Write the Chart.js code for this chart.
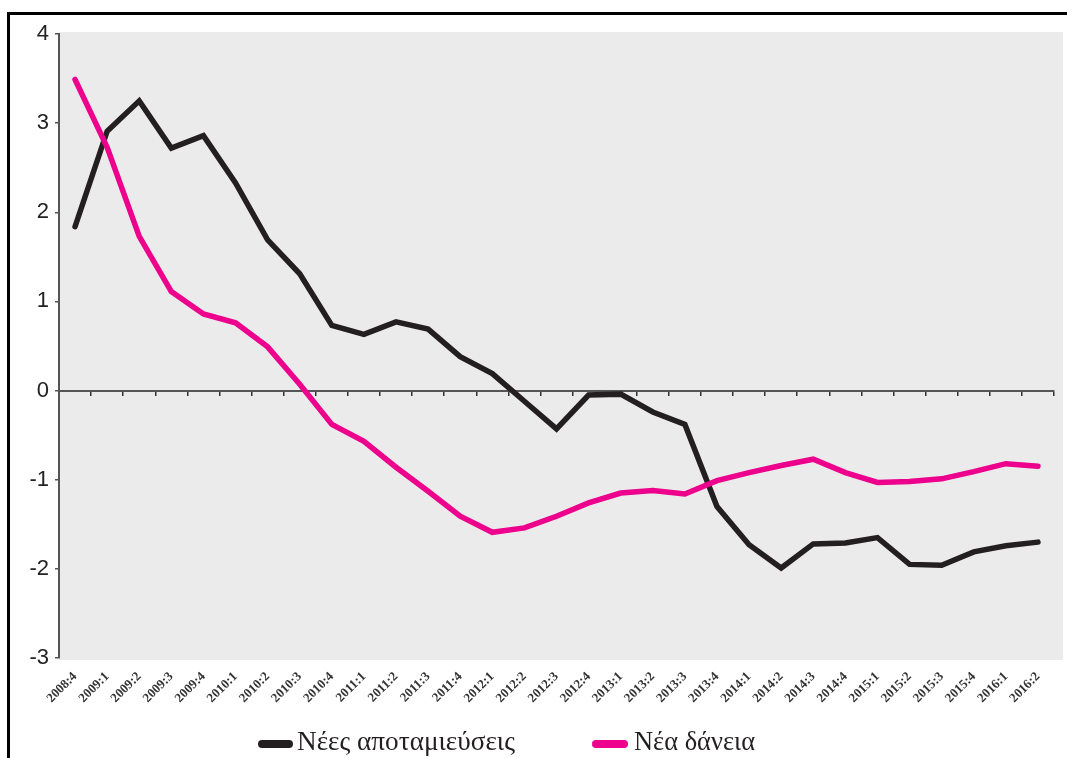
<!DOCTYPE html>
<html><head><meta charset="utf-8">
<script src="https://cdn.jsdelivr.net/npm/chart.js@4.4.0/dist/chart.umd.min.js"></script>
<style>
html,body{margin:0;padding:0;background:#fff;}
#wrap{position:relative;width:1067px;height:758px;overflow:hidden;}
#frame{position:absolute;left:7px;top:12px;width:1100px;height:800px;border-top:3px solid #000;border-left:3px solid #000;pointer-events:none;}
canvas{position:absolute;left:0;top:0;}
</style></head>
<body><div id="wrap"><div id="frame"></div><canvas id="c" width="1067" height="758"></canvas></div>
<script>
const categories = ["2008:4","2009:1","2009:2","2009:3","2009:4","2010:1","2010:2","2010:3","2010:4","2011:1","2011:2","2011:3","2011:4","2012:1","2012:2","2012:3","2012:4","2013:1","2013:2","2013:3","2013:4","2014:1","2014:2","2014:3","2014:4","2015:1","2015:2","2015:3","2015:4","2016:1","2016:2"];
const newDeposits = [1.84,2.91,3.25,2.72,2.86,2.33,1.69,1.31,0.73,0.63,0.77,0.69,0.38,0.19,-0.12,-0.43,-0.05,-0.04,-0.24,-0.38,-1.30,-1.73,-1.99,-1.72,-1.71,-1.65,-1.95,-1.96,-1.81,-1.74,-1.70];
const newLoans = [3.49,2.73,1.73,1.11,0.86,0.76,0.49,0.07,-0.38,-0.57,-0.86,-1.13,-1.41,-1.59,-1.54,-1.41,-1.26,-1.15,-1.12,-1.16,-1.01,-0.92,-0.84,-0.77,-0.92,-1.03,-1.02,-0.99,-0.91,-0.82,-0.85];
const seriesNames = ["Νέες αποταμιεύσεις","Νέα δάνεια"];
const seriesColors = ["#231f20","#ec008c"];
const yMin = -3, yMax = 4, yStep = 1;

const bgPlugin = {
  id: 'bg',
  beforeDraw(chart) {
    const {ctx, chartArea: a} = chart;
    ctx.save();
    ctx.fillStyle = '#ebebeb';
    ctx.fillRect(a.left, a.top - 2, a.right - a.left + 9, a.bottom - a.top + 4);
    ctx.restore();
  }
};

const legendPlugin = {
  id: 'customLegend',
  afterDraw(chart) {
    const ctx = chart.ctx;
    const items = [
      {name: seriesNames[0], color: seriesColors[0], x0: 258, x1: 293, tx: 297, tw: 218},
      {name: seriesNames[1], color: seriesColors[1], x0: 592, x1: 628, tx: 634, tw: 121}
    ];
    const y = 744;
    ctx.save();
    items.forEach(it => {
      ctx.strokeStyle = it.color;
      ctx.lineWidth = 8;
      ctx.lineCap = 'round';
      ctx.beginPath();
      ctx.moveTo(it.x0 + 4, y);
      ctx.lineTo(it.x1 - 4, y);
      ctx.stroke();
      ctx.font = '24px "Liberation Serif"';
      const w = ctx.measureText(it.name).width;
      const size = 24 * it.tw / w;
      ctx.font = size.toFixed(2) + 'px "Liberation Serif"';
      ctx.fillStyle = '#231f20';
      ctx.textBaseline = 'middle';
      ctx.textAlign = 'left';
      ctx.fillText(it.name, it.tx, y - 1);
    });
    ctx.restore();
  }
};

new Chart(document.getElementById('c'), {
  type: 'line',
  data: {
    labels: categories,
    datasets: [
      {label: seriesNames[0], data: newDeposits, borderColor: seriesColors[0], backgroundColor: seriesColors[0], borderWidth: 5.5, pointRadius: 0, tension: 0, order: 1, borderJoinStyle: 'miter', borderCapStyle: 'round'},
      {label: seriesNames[1], data: newLoans, borderColor: seriesColors[1], backgroundColor: seriesColors[1], borderWidth: 5.5, pointRadius: 0, tension: 0, order: 0, borderJoinStyle: 'miter', borderCapStyle: 'round'}
    ]
  },
  options: {
    responsive: false,
    animation: false,
    devicePixelRatio: 1,
    layout: {padding: {top: 34, left: 0, right: 13, bottom: 40}},
    plugins: {legend: {display: false}, tooltip: {enabled: false}},
    scales: {
      x: {
        type: 'category',
        position: 'bottom',
        offset: true,
        grid: {display: false},
        border: {display: false},
        ticks: {
          autoSkip: false, minRotation: 45, maxRotation: 45, padding: 3,
          color: '#333', font: {family: '"Liberation Serif"', size: 13, weight: 'bold'}
        },
        afterFit(s) { s.height = 60; }
      },
      x2: {
        type: 'category',
        axis: 'x',
        labels: categories,
        position: {y: 0},
        offset: true,
        grid: {offset: true, drawOnChartArea: false, drawTicks: true, tickLength: 4, color: '#333', lineWidth: 1.5},
        border: {display: true, color: '#555', width: 2},
        ticks: {display: false}
      },
      y: {
        min: yMin, max: yMax,
        ticks: {stepSize: yStep, padding: 6, color: '#222', font: {family: '"Liberation Sans"', size: 22}},
        grid: {drawOnChartArea: false, drawTicks: true, tickLength: 4, color: '#555', lineWidth: 1.5},
        border: {display: true, color: '#555', width: 2},
        afterFit(s) { s.width = 59; }
      }
    }
  },
  plugins: [bgPlugin, legendPlugin]
});
</script>
</body></html>
